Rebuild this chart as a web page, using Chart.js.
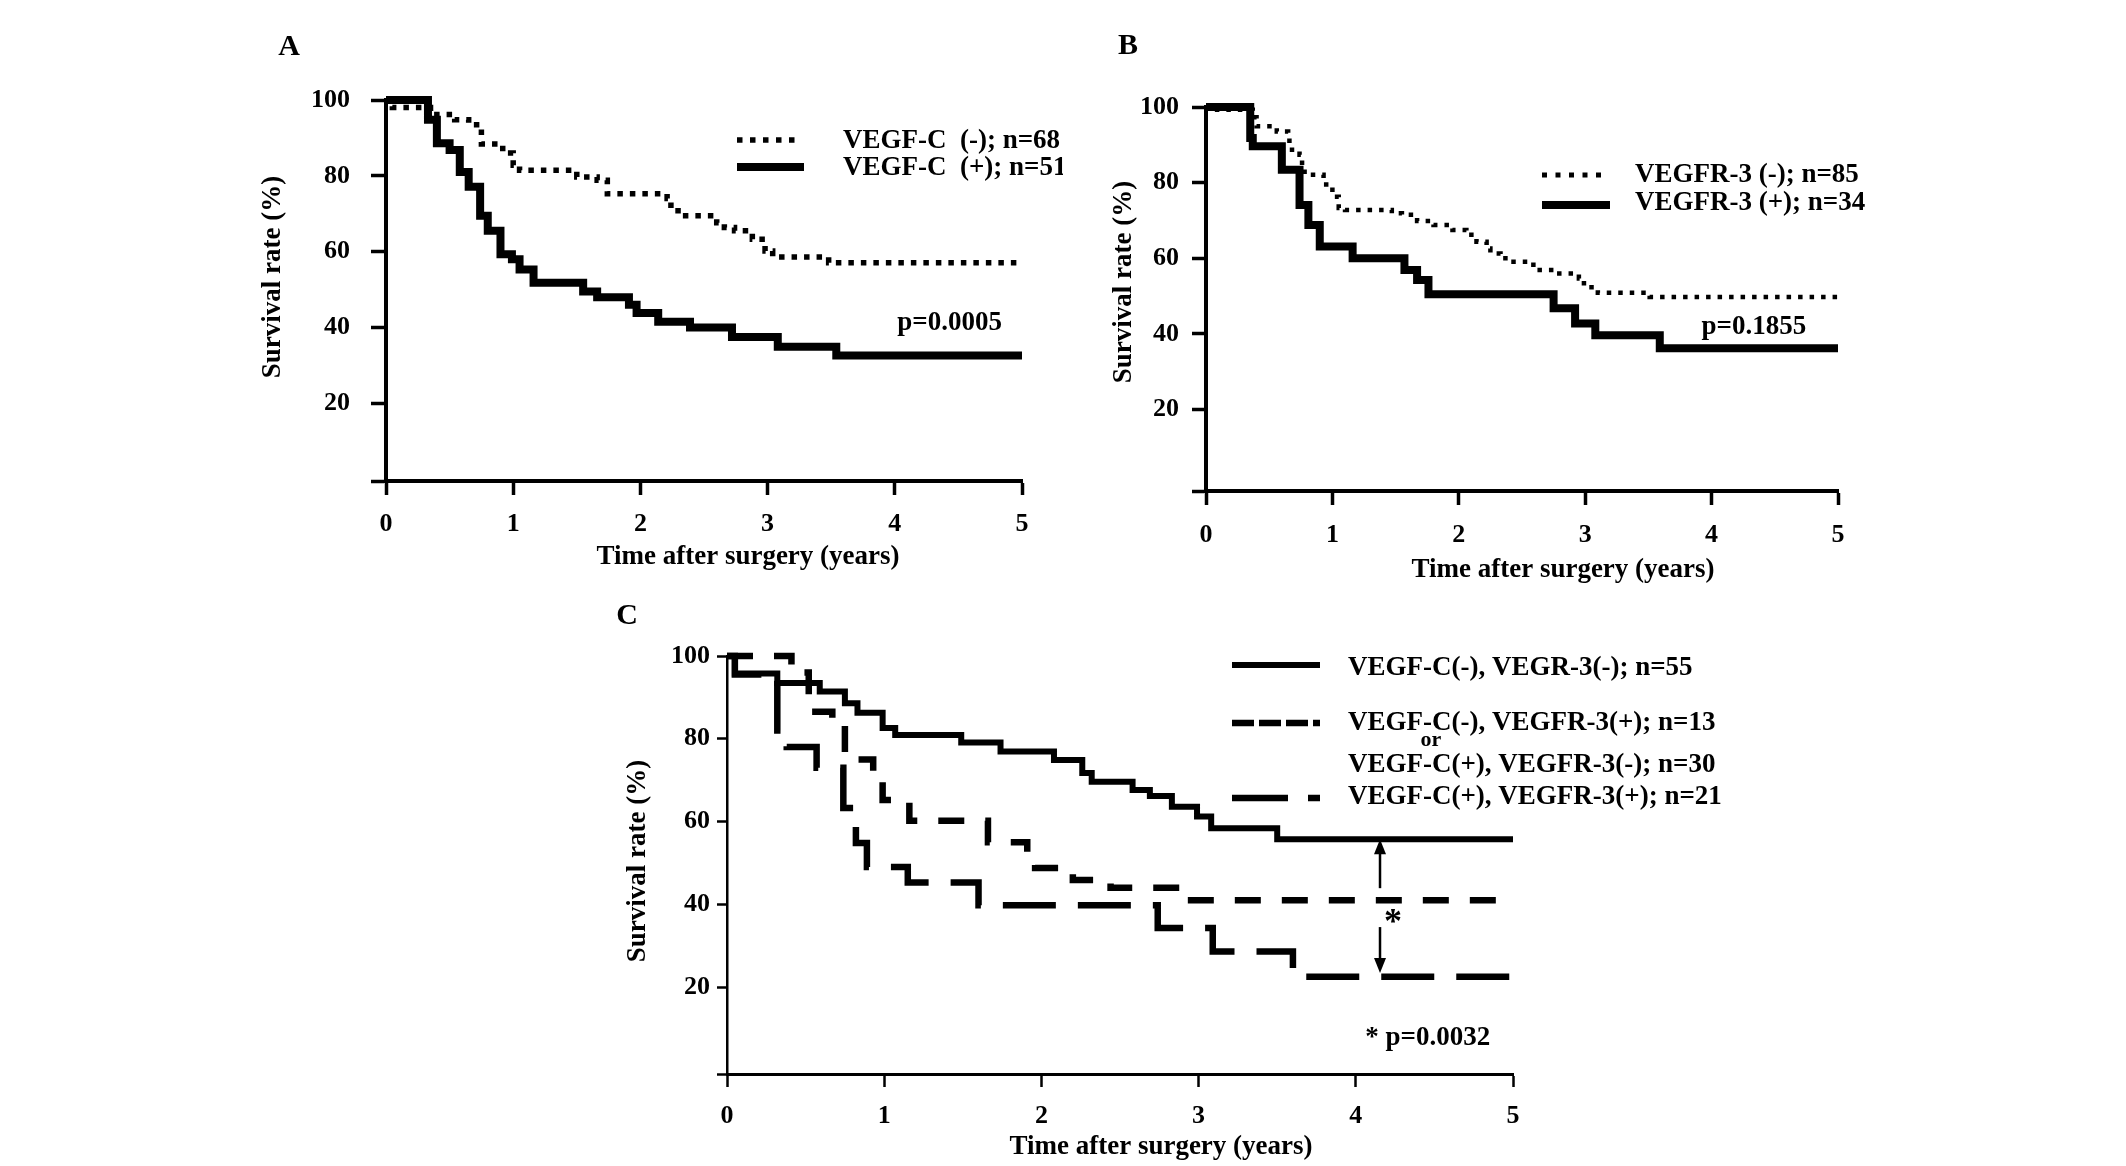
<!DOCTYPE html>
<html>
<head>
<meta charset="utf-8">
<title>Survival curves by VEGF-C / VEGFR-3 status</title>
<script src="https://cdn.jsdelivr.net/npm/chart.js@4.4.1/dist/chart.umd.min.js"></script>
<style>
  html, body { margin: 0; padding: 0; background: #fff; }
  body { width: 2126px; height: 1166px; position: relative; overflow: hidden; }
  canvas { position: absolute; }
</style>
</head>
<body>
<canvas id="chartA" width="1063" height="600" style="left:0;top:0"></canvas>
<canvas id="chartB" width="1063" height="600" style="left:1063px;top:0"></canvas>
<canvas id="chartC" width="1300" height="586" style="left:560px;top:580px"></canvas>
<script>
// axis ticks
const yearTicks = [0, 1, 2, 3, 4, 5];
const rateTicks = [20, 40, 60, 80, 100];

// A: VEGF-C
const vegfcNegYears = [0, 0.05, 0.35, 0.54, 0.65, 0.75, 0.88, 0.98, 1.0, 1.05, 1.5, 1.66, 1.74, 2.21, 2.24, 2.33, 2.6, 2.66, 2.74, 2.88, 2.98, 3.04, 3.48, 5];
const vegfcNegRate  = [100, 98, 96.2, 94.8, 93.5, 88.4, 87.2, 86, 82.8, 81.5, 79.7, 78.8, 75.3, 74, 70.8, 69.5, 67.6, 66.4, 65.5, 63.3, 60.2, 58.6, 57.1, 57.1];
const vegfcPosYears = [0, 0.33, 0.4, 0.5, 0.58, 0.65, 0.74, 0.8, 0.9, 0.99, 1.05, 1.16, 1.55, 1.66, 1.91, 1.97, 2.14, 2.39, 2.72, 3.08, 3.54, 5];
const vegfcPosRate  = [100, 94.8, 88.6, 86.8, 81, 77.1, 69.5, 65.5, 59.3, 58, 55.3, 51.8, 49.5, 48, 46, 43.8, 41.5, 40, 37.5, 34.9, 32.6, 32.6];
const legendA = ['VEGF-C  (-); n=68', 'VEGF-C  (+); n=51'];

// B: VEGFR-3
const vegfr3NegYears = [0, 0.05, 0.37, 0.4, 0.56, 0.65, 0.66, 0.74, 0.76, 0.78, 0.93, 1.0, 1.05, 1.1, 1.47, 1.55, 1.67, 1.8, 1.95, 2.06, 2.14, 2.22, 2.25, 2.33, 2.4, 2.59, 2.62, 2.75, 2.95, 2.99, 3.05, 3.1, 3.51, 5];
const vegfr3NegRate  = [100, 99.3, 97.3, 94.9, 93.5, 91.9, 88.7, 87.4, 84.3, 82.1, 79.5, 76.3, 73.3, 72.8, 71.9, 71.5, 69.9, 68.8, 67.5, 66.2, 64.4, 62.6, 61.3, 60, 59.1, 57.4, 56.9, 56, 54.7, 53.4, 51.6, 50.9, 49.8, 49.8];
const vegfr3PosYears = [0, 0.35, 0.37, 0.6, 0.74, 0.81, 0.9, 1.16, 1.57, 1.67, 1.76, 2.75, 2.92, 3.08, 3.59, 5];
const vegfr3PosRate  = [100, 91.8, 89.6, 83.4, 74.1, 68.8, 63.1, 60, 56.9, 54.3, 50.5, 46.8, 42.8, 39.7, 36.2, 36.2];
const legendB = ['VEGFR-3 (-); n=85', 'VEGFR-3 (+); n=34'];

// C: combined
const bothNegYears = [0, 0.05, 0.32, 0.59, 0.75, 0.83, 0.99, 1.07, 1.49, 1.74, 2.08, 2.26, 2.32, 2.58, 2.69, 2.83, 2.99, 3.08, 3.5, 5];
const bothNegRate  = [100, 95.8, 93.5, 91.4, 88.6, 86.3, 82.6, 80.9, 79.1, 76.9, 74.9, 71.7, 69.6, 67.6, 66.2, 63.6, 61.2, 58.4, 55.7, 55.7];
const mixedYears = [0, 0.41, 0.52, 0.67, 0.75, 0.93, 0.99, 1.16, 1.66, 1.91, 1.96, 2.2, 2.44, 2.91, 5];
const mixedRate  = [100, 96, 86.5, 83.3, 75, 70, 65.2, 60.2, 55, 50.7, 48.8, 45.9, 44, 41, 41];
const bothPosYears = [0, 0.05, 0.32, 0.38, 0.57, 0.74, 0.82, 0.89, 1.15, 1.6, 2.74, 3.09, 3.6, 5];
const bothPosRate  = [100, 95.5, 82, 78, 73, 63.3, 54.8, 49, 45.3, 39.8, 34.3, 28.6, 22.5, 22.5];
const legendC = ['VEGF-C(-), VEGR-3(-); n=55', 'VEGF-C(-), VEGFR-3(+); n=13', 'VEGF-C(+), VEGFR-3(-); n=30', 'VEGF-C(+), VEGFR-3(+); n=21'];

const serif = '"Liberation Serif", "Times New Roman", serif';
const bold = size => 'bold ' + size + 'px ' + serif;

function points(xs, ys) {
  return xs.map((t, i) => ({ x: t, y: ys[i] }));
}

function curve(xs, ys, width, dash) {
  return {
    data: points(xs, ys),
    borderColor: '#000',
    borderWidth: width,
    borderDash: dash || [],
    borderCapStyle: 'butt',
    stepped: 'before',
    pointRadius: 0,
    fill: false,
    clip: false
  };
}

// text, legend samples and arrows drawn over the chart
function makeOverlay(items) {
  return {
    id: 'overlay',
    afterDraw(chart) {
      const ctx = chart.ctx;
      const xs = chart.scales.x, ys = chart.scales.y;
      const px = it => it.t !== undefined ? xs.getPixelForValue(it.t) : it.x;
      const py = it => it.v !== undefined ? ys.getPixelForValue(it.v) : it.y;
      ctx.save();
      ctx.fillStyle = '#000';
      ctx.strokeStyle = '#000';
      items.forEach(it => {
        if (it.kind === 'line') {
          ctx.beginPath();
          ctx.lineWidth = it.width;
          ctx.lineCap = 'butt';
          ctx.setLineDash(it.dash || []);
          ctx.moveTo(it.x1, it.y);
          ctx.lineTo(it.x2, it.y);
          ctx.stroke();
          ctx.setLineDash([]);
        } else if (it.kind === 'text') {
          ctx.save();
          ctx.font = it.font;
          ctx.textAlign = it.align || 'left';
          ctx.textBaseline = it.baseline || 'middle';
          ctx.translate(px(it), py(it));
          if (it.rotate) ctx.rotate(it.rotate);
          ctx.fillText(it.text, 0, 0);
          ctx.restore();
        } else if (it.kind === 'arrow') {
          const x = xs.getPixelForValue(it.t);
          const y1 = ys.getPixelForValue(it.from);
          const y2 = ys.getPixelForValue(it.to);
          const dir = y2 < y1 ? 1 : -1;
          ctx.beginPath();
          ctx.lineWidth = 2.5;
          ctx.moveTo(x, y1);
          ctx.lineTo(x, y2 + dir * 12);
          ctx.stroke();
          ctx.beginPath();
          ctx.moveTo(x, y2);
          ctx.lineTo(x - 6, y2 + dir * 15);
          ctx.lineTo(x + 6, y2 + dir * 15);
          ctx.closePath();
          ctx.fill();
        }
      });
      ctx.restore();
    }
  };
}

function kmOptions(p) {
  return {
    responsive: false,
    animation: false,
    devicePixelRatio: 1,
    layout: { padding: p.padding },
    plugins: { legend: { display: false }, tooltip: { enabled: false } },
    scales: {
      x: {
        type: 'linear',
        min: 0,
        max: 5,
        afterBuildTicks: s => { s.ticks = yearTicks.map(v => ({ value: v })); },
        afterFit: s => { s.height = p.xHeight; },
        grid: { drawOnChartArea: false, drawTicks: true, tickLength: p.xTick, tickWidth: p.tickWidth, tickColor: '#000' },
        border: { display: true, color: '#000', width: p.xBorder },
        ticks: { color: '#000', font: { family: serif, size: 26, weight: 'bold' }, padding: p.xPad, maxRotation: 0 },
        title: { display: false }
      },
      y: {
        type: 'linear',
        min: p.yMin,
        max: 100,
        afterBuildTicks: s => { s.ticks = [p.yMin].concat(rateTicks).map(v => ({ value: v })); },
        afterFit: s => { s.width = p.yWidth; },
        grid: { drawOnChartArea: false, drawTicks: true, tickLength: p.yTick, tickWidth: p.tickWidth, tickColor: '#000' },
        border: { display: true, color: '#000', width: p.yBorder },
        ticks: { color: '#000', font: { family: serif, size: 26, weight: 'bold' }, padding: p.yPad, callback: v => v > 0 ? String(v) : '' },
        title: { display: false }
      }
    }
  };
}

const xTitle = 'Time after surgery (years)';
const yTitle = 'Survival rate (%)';

// ---- A ----
new Chart(document.getElementById('chartA'), {
  type: 'line',
  data: {
    datasets: [
      curve(vegfcNegYears, vegfcNegRate, 5.5, [5.5, 7]),
      curve(vegfcPosYears, vegfcPosRate, 8)
    ]
  },
  options: kmOptions({
    padding: { left: 257, right: 41, top: 100, bottom: 27 },
    yWidth: 129, xHeight: 92, yMin: -0.5,
    xTick: 14, yTick: 15, xPad: 14, yPad: 21,
    tickWidth: 3.5, xBorder: 4, yBorder: 4
  }),
  plugins: [makeOverlay([
    { kind: 'text', text: 'A', x: 289, y: 47, font: bold(30), align: 'center' },
    { kind: 'line', x1: 737, x2: 800, y: 140, width: 5.5, dash: [5.5, 7.5] },
    { kind: 'line', x1: 737, x2: 804, y: 167, width: 8 },
    { kind: 'text', text: legendA[0], x: 843, y: 141, font: bold(27) },
    { kind: 'text', text: legendA[1], x: 843, y: 168, font: bold(27) },
    { kind: 'text', text: 'p=0.0005', t: 4.02, v: 41.2, font: bold(27) },
    { kind: 'text', text: xTitle, x: 748, y: 557, font: bold(27), align: 'center' },
    { kind: 'text', text: yTitle, x: 273, y: 277, font: bold(27), align: 'center', rotate: -Math.PI / 2 }
  ])]
});

// ---- B ----
new Chart(document.getElementById('chartB'), {
  type: 'line',
  data: {
    datasets: [
      curve(vegfr3NegYears, vegfr3NegRate, 4.5, [4.5, 7]),
      curve(vegfr3PosYears, vegfr3PosRate, 8)
    ]
  },
  options: kmOptions({
    padding: { left: 42, right: 288, top: 107, bottom: 13 },
    yWidth: 101, xHeight: 96, yMin: -1.5,
    xTick: 14, yTick: 14, xPad: 15, yPad: 13,
    tickWidth: 3.5, xBorder: 4, yBorder: 4
  }),
  plugins: [makeOverlay([
    { kind: 'text', text: 'B', x: 65, y: 46, font: bold(30), align: 'center' },
    { kind: 'line', x1: 479, x2: 542, y: 175, width: 5, dash: [5, 8.5] },
    { kind: 'line', x1: 479, x2: 547, y: 205, width: 8 },
    { kind: 'text', text: legendB[0], x: 572, y: 175, font: bold(27) },
    { kind: 'text', text: legendB[1], x: 572, y: 203, font: bold(27) },
    { kind: 'text', text: 'p=0.1855', t: 3.92, v: 41.9, font: bold(27) },
    { kind: 'text', text: xTitle, x: 500, y: 570, font: bold(27), align: 'center' },
    { kind: 'text', text: yTitle, x: 61, y: 282, font: bold(27), align: 'center', rotate: -Math.PI / 2 }
  ])]
});

// ---- C ----
new Chart(document.getElementById('chartC'), {
  type: 'line',
  data: {
    datasets: [
      curve(bothNegYears, bothNegRate, 6),
      curve(mixedYears, mixedRate, 6.5, [26, 21]),
      curve(bothPosYears, bothPosRate, 6.5, [53, 22])
    ]
  },
  options: kmOptions({
    padding: { left: 60, right: 347, top: 76, bottom: 3 },
    yWidth: 107, xHeight: 89, yMin: -1,
    xTick: 13, yTick: 10, xPad: 14, yPad: 7,
    tickWidth: 2.5, xBorder: 3, yBorder: 2.5
  }),
  plugins: [makeOverlay([
    { kind: 'text', text: 'C', x: 67, y: 36, font: bold(30), align: 'center' },
    { kind: 'line', x1: 672, x2: 760, y: 85, width: 6 },
    { kind: 'line', x1: 672, x2: 760, y: 143, width: 6.5, dash: [22, 5] },
    { kind: 'line', x1: 672, x2: 760, y: 218, width: 6.5, dash: [56, 20] },
    { kind: 'text', text: legendC[0], x: 788, y: 88, font: bold(27) },
    { kind: 'text', text: legendC[1], x: 788, y: 143, font: bold(27) },
    { kind: 'text', text: 'or', x: 871, y: 160, font: bold(22), align: 'center' },
    { kind: 'text', text: legendC[2], x: 788, y: 185, font: bold(27) },
    { kind: 'text', text: legendC[3], x: 788, y: 217, font: bold(27) },
    { kind: 'arrow', t: 4.154, from: 43.9, to: 55.7 },
    { kind: 'arrow', t: 4.154, from: 34.5, to: 23.4 },
    { kind: 'text', text: '*', t: 4.237, v: 33.1, font: bold(36), align: 'center', baseline: 'alphabetic' },
    { kind: 'text', text: '* p=0.0032', t: 4.06, v: 7.7, font: bold(27) },
    { kind: 'text', text: xTitle, x: 601, y: 567, font: bold(27), align: 'center' },
    { kind: 'text', text: yTitle, x: 78, y: 281, font: bold(27), align: 'center', rotate: -Math.PI / 2 }
  ])]
});
</script>
</body>
</html>
